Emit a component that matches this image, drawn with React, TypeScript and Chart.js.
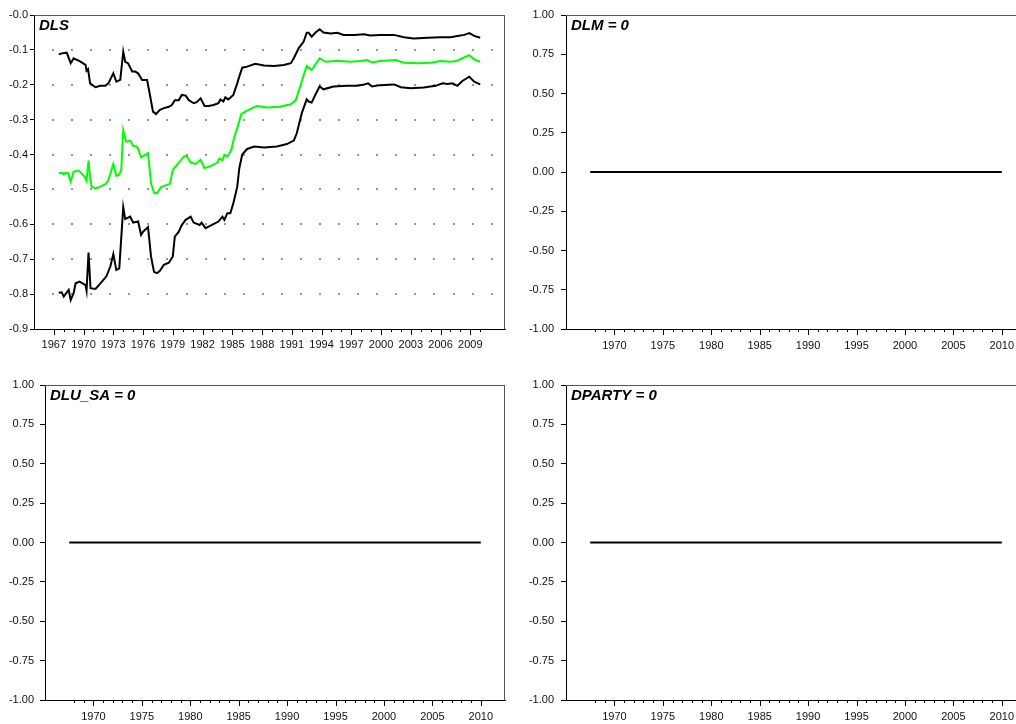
import React, { useEffect, useRef } from "react";
import Chart from "chart.js/auto";

const FONT = "'Liberation Sans', Arial, Helvetica, sans-serif";

// ---- DLS panel data (recursive estimate with bands) ----
const upperYears = [1967.5, 1967.8, 1968.3, 1968.7, 1969.0, 1969.6, 1970.2, 1970.3, 1970.45, 1970.66, 1971.2, 1971.7, 1972.2, 1972.5, 1973.0, 1973.3, 1973.7, 1974.0, 1974.2, 1974.5, 1974.9, 1975.2, 1975.5, 1975.9, 1976.4, 1976.6, 1977.0, 1977.3, 1977.7, 1978.1, 1978.6, 1978.9, 1979.2, 1979.6, 1979.9, 1980.3, 1980.6, 1981.1, 1981.4, 1981.8, 1982.2, 1982.6, 1983.1, 1983.6, 1983.8, 1984.1, 1984.3, 1984.6, 1985.1, 1985.5, 1985.65, 1986.0, 1986.5, 1987.3, 1988.2, 1989.2, 1990.2, 1990.9, 1991.2, 1991.7, 1992.2, 1992.5, 1992.7, 1993.0, 1993.4, 1993.8, 1994.2, 1994.9, 1995.6, 1996.2, 1997.3, 1998.3, 1998.9, 1999.9, 2001.3, 2002.3, 2003.3, 2004.7, 2006.0, 2007.0, 2007.7, 2008.4, 2008.9, 2009.4, 2010.0];
const upperValues = [-0.113, -0.110, -0.108, -0.138, -0.124, -0.132, -0.143, -0.160, -0.155, -0.196, -0.207, -0.203, -0.203, -0.196, -0.167, -0.191, -0.186, -0.105, -0.134, -0.139, -0.162, -0.162, -0.167, -0.186, -0.186, -0.215, -0.277, -0.284, -0.272, -0.267, -0.263, -0.258, -0.244, -0.244, -0.229, -0.231, -0.244, -0.253, -0.250, -0.239, -0.261, -0.261, -0.258, -0.253, -0.242, -0.248, -0.236, -0.242, -0.229, -0.196, -0.181, -0.151, -0.148, -0.140, -0.145, -0.146, -0.143, -0.138, -0.124, -0.095, -0.076, -0.051, -0.051, -0.062, -0.050, -0.041, -0.050, -0.053, -0.051, -0.057, -0.057, -0.055, -0.059, -0.057, -0.057, -0.064, -0.067, -0.065, -0.064, -0.064, -0.060, -0.057, -0.052, -0.060, -0.065];

const midYears = [1967.5, 1967.8, 1968.0, 1968.2, 1968.45, 1968.7, 1969.0, 1969.5, 1969.8, 1970.1, 1970.3, 1970.5, 1970.66, 1970.8, 1971.2, 1971.7, 1972.2, 1972.5, 1973.0, 1973.3, 1973.6, 1973.8, 1974.0, 1974.3, 1974.7, 1975.0, 1975.4, 1975.8, 1976.2, 1976.5, 1976.8, 1977.1, 1977.4, 1977.8, 1978.4, 1978.7, 1979.0, 1979.4, 1979.7, 1980.1, 1980.4, 1980.8, 1981.3, 1981.8, 1982.2, 1982.8, 1983.5, 1983.7, 1984.0, 1984.2, 1984.5, 1984.9, 1985.2, 1985.5, 1985.9, 1986.3, 1987.0, 1987.5, 1988.5, 1989.8, 1990.9, 1991.4, 1991.9, 1992.2, 1992.5, 1993.0, 1993.4, 1993.8, 1994.4, 1995.6, 1996.9, 1997.9, 1998.6, 1999.1, 1999.9, 2001.5, 2002.3, 2003.7, 2005.0, 2006.0, 2007.0, 2007.7, 2008.2, 2008.9, 2009.4, 2010.0];
const midValues = [-0.454, -0.452, -0.457, -0.452, -0.454, -0.478, -0.449, -0.446, -0.454, -0.463, -0.475, -0.417, -0.463, -0.492, -0.497, -0.492, -0.485, -0.473, -0.427, -0.461, -0.458, -0.444, -0.330, -0.363, -0.360, -0.375, -0.377, -0.408, -0.401, -0.396, -0.482, -0.509, -0.511, -0.494, -0.487, -0.484, -0.444, -0.430, -0.420, -0.406, -0.404, -0.423, -0.427, -0.415, -0.439, -0.433, -0.423, -0.411, -0.417, -0.401, -0.406, -0.387, -0.349, -0.325, -0.284, -0.277, -0.267, -0.261, -0.265, -0.263, -0.256, -0.244, -0.201, -0.172, -0.146, -0.158, -0.141, -0.124, -0.134, -0.131, -0.134, -0.132, -0.129, -0.136, -0.132, -0.129, -0.137, -0.138, -0.137, -0.132, -0.134, -0.131, -0.124, -0.115, -0.127, -0.134];

const lowerYears = [1967.5, 1967.8, 1968.0, 1968.25, 1968.5, 1968.7, 1969.0, 1969.2, 1969.6, 1970.2, 1970.3, 1970.5, 1970.7, 1971.2, 1971.7, 1972.0, 1972.3, 1972.7, 1973.0, 1973.3, 1973.6, 1974.0, 1974.2, 1974.7, 1975.0, 1975.5, 1975.8, 1976.0, 1976.5, 1976.8, 1977.1, 1977.4, 1977.7, 1978.1, 1978.6, 1979.0, 1979.2, 1979.6, 1979.9, 1980.3, 1980.8, 1981.1, 1981.7, 1981.9, 1982.3, 1982.9, 1983.6, 1984.0, 1984.2, 1984.5, 1984.8, 1985.1, 1985.5, 1985.7, 1986.0, 1986.5, 1987.2, 1988.2, 1989.5, 1990.5, 1991.2, 1991.5, 1992.0, 1992.5, 1992.7, 1993.0, 1993.4, 1993.8, 1994.2, 1995.2, 1996.6, 1997.6, 1998.3, 1998.7, 1999.1, 1999.9, 2001.3, 2002.0, 2003.0, 2004.3, 2005.5, 2006.2, 2006.7, 2007.2, 2007.7, 2008.2, 2008.9, 2009.4, 2010.0];
const lowerValues = [-0.796, -0.795, -0.807, -0.797, -0.788, -0.817, -0.797, -0.769, -0.764, -0.774, -0.790, -0.681, -0.783, -0.785, -0.769, -0.759, -0.749, -0.721, -0.685, -0.731, -0.726, -0.551, -0.585, -0.578, -0.595, -0.592, -0.630, -0.621, -0.608, -0.692, -0.736, -0.740, -0.733, -0.716, -0.710, -0.692, -0.635, -0.621, -0.602, -0.587, -0.578, -0.595, -0.602, -0.595, -0.611, -0.602, -0.592, -0.578, -0.587, -0.568, -0.568, -0.540, -0.492, -0.440, -0.400, -0.384, -0.377, -0.380, -0.377, -0.370, -0.360, -0.339, -0.282, -0.242, -0.248, -0.251, -0.227, -0.205, -0.213, -0.205, -0.203, -0.203, -0.199, -0.196, -0.205, -0.201, -0.199, -0.207, -0.210, -0.208, -0.203, -0.196, -0.198, -0.196, -0.203, -0.189, -0.177, -0.191, -0.199];

// ---- restricted panels (coefficient = 0) ----
const zeroYears = [1967.5, 2010.0];
const zeroValues = [0, 0];

// ---- tick labels ----
const dlsYTicks = [-0.9, -0.8, -0.7, -0.6, -0.5, -0.4, -0.3, -0.2, -0.1, 0];
const zeroYTicks = [-1, -0.75, -0.5, -0.25, 0, 0.25, 0.5, 0.75, 1];
const dlsXLabels = [1967, 1970, 1973, 1976, 1979, 1982, 1985, 1988, 1991, 1994, 1997, 2000, 2003, 2006, 2009];
const zeroXLabels = [1970, 1975, 1980, 1985, 1990, 1995, 2000, 2005, 2010];

const pts = (xs: number[], ys: number[]) => xs.map((x, i) => ({ x, y: ys[i] }));

type PanelDef = {
  title: string;
  left: number; top: number; width: number; height: number;
  yW: number; xH: number; padTop: number; padRight: number;
  yMin: number; yMax: number; yTicks: number[]; yFmt: (v: number) => string;
  yTickLen: number; yPad: number;
  xLabels: number[]; minorStart: number; minorEnd: number; xPad: number;
  dotted: boolean;
  datasets: any[];
};

const zeroDataset = () => ({
  data: pts(zeroYears, zeroValues),
  borderColor: "#000",
  borderWidth: 2,
  pointRadius: 0,
  fill: false,
});

const panels: PanelDef[] = [
  {
    title: "DLS", left: 0, top: 0, width: 520, height: 360,
    yW: 34, xH: 31, padTop: 15, padRight: 15,
    yMin: -0.9, yMax: 0, yTicks: dlsYTicks,
    yFmt: (v) => (Math.abs(v) < 1e-9 ? "-0.0" : v.toFixed(1)),
    yTickLen: 4, yPad: 2,
    xLabels: dlsXLabels, minorStart: 1967, minorEnd: 2010, xPad: 1,
    dotted: true,
    datasets: [
      { data: pts(upperYears, upperValues), borderColor: "#000", borderWidth: 2, pointRadius: 0, fill: false },
      { data: pts(midYears, midValues), borderColor: "#00ff00", borderWidth: 2, pointRadius: 0, fill: false },
      { data: pts(lowerYears, lowerValues), borderColor: "#000", borderWidth: 2, pointRadius: 0, fill: false },
    ],
  },
  {
    title: "DLM = 0", left: 520, top: 0, width: 540, height: 360,
    yW: 46, xH: 31, padTop: 15, padRight: 34,
    yMin: -1, yMax: 1, yTicks: zeroYTicks, yFmt: (v) => v.toFixed(2),
    yTickLen: 5, yPad: 7,
    xLabels: zeroXLabels, minorStart: 1968, minorEnd: 2010, xPad: 2,
    dotted: false,
    datasets: [zeroDataset()],
  },
  {
    title: "DLU_SA = 0", left: 0, top: 360, width: 520, height: 364,
    yW: 45, xH: 24, padTop: 25, padRight: 15,
    yMin: -1, yMax: 1, yTicks: zeroYTicks, yFmt: (v) => v.toFixed(2),
    yTickLen: 5, yPad: 6,
    xLabels: zeroXLabels, minorStart: 1968, minorEnd: 2010, xPad: 2,
    dotted: false,
    datasets: [zeroDataset()],
  },
  {
    title: "DPARTY = 0", left: 520, top: 360, width: 540, height: 364,
    yW: 46, xH: 24, padTop: 25, padRight: 34,
    yMin: -1, yMax: 1, yTicks: zeroYTicks, yFmt: (v) => v.toFixed(2),
    yTickLen: 5, yPad: 7,
    xLabels: zeroXLabels, minorStart: 1968, minorEnd: 2010, xPad: 2,
    dotted: false,
    datasets: [zeroDataset()],
  },
];

function PanelChart({ p }: { p: PanelDef }) {
  const ref = useRef<HTMLCanvasElement | null>(null);
  useEffect(() => {
    if (!ref.current) return;
    const decor = {
      id: "decor" + p.title,
      beforeDatasetsDraw(chart: any) {
        if (!p.dotted) return;
        const { ctx, chartArea: a, scales } = chart;
        const ys = scales.y;
        ctx.save();
        ctx.fillStyle = "#444";
        const step = (a.right - a.left) / 24.7;
        p.yTicks.forEach((v) => {
          if (v <= p.yMin + 1e-9 || v >= p.yMax - 1e-9) return;
          const py = Math.round(ys.getPixelForValue(v));
          for (let k = 1; a.left + k * step < a.right - 4; k++) {
            const px = Math.round(a.left + k * step);
            ctx.fillRect(px - 0.75, py - 0.75, 1.5, 1.5);
          }
        });
        ctx.restore();
      },
      afterDraw(chart: any) {
        const { ctx, chartArea: a, scales } = chart;
        const xs = scales.x;
        ctx.save();
        // frame: top and right
        ctx.strokeStyle = "#555";
        ctx.lineWidth = 1;
        ctx.beginPath();
        ctx.moveTo(a.left, Math.round(a.top) + 0.5);
        ctx.lineTo(a.right, Math.round(a.top) + 0.5);
        ctx.moveTo(Math.round(a.right) - 0.5, a.top);
        ctx.lineTo(Math.round(a.right) - 0.5, a.bottom);
        ctx.stroke();
        // x tick marks (yearly minor, labelled years major)
        ctx.strokeStyle = "#000";
        ctx.beginPath();
        for (let yr = p.minorStart; yr <= p.minorEnd; yr++) {
          const px = Math.round(xs.getPixelForValue(yr)) + 0.5;
          const len = p.xLabels.includes(yr) ? 6 : 3;
          ctx.moveTo(px, a.bottom);
          ctx.lineTo(px, a.bottom + len);
        }
        ctx.stroke();
        // title
        ctx.fillStyle = "#000";
        ctx.font = `italic bold 15px ${FONT}`;
        ctx.textAlign = "left";
        ctx.textBaseline = "alphabetic";
        ctx.fillText(p.title, a.left + 5, a.top + 15);
        ctx.restore();
      },
    };
    const chart = new Chart(ref.current, {
      type: "line",
      data: { datasets: p.datasets },
      options: {
        animation: false,
        responsive: false,
        maintainAspectRatio: false,
        layout: { padding: { top: p.padTop, right: p.padRight, left: 0, bottom: 0 } },
        plugins: { legend: { display: false }, tooltip: { enabled: false } },
        elements: { line: { tension: 0 } },
        scales: {
          x: {
            type: "linear",
            min: 1965,
            max: 2012.5,
            afterBuildTicks: (s: any) => {
              s.ticks = p.xLabels.map((v) => ({ value: v }));
            },
            afterFit: (s: any) => {
              s.height = p.xH;
            },
            ticks: {
              autoSkip: false,
              maxRotation: 0,
              padding: p.xPad,
              color: "#111",
              font: { family: FONT, size: 11 },
              callback: (v: any) => String(v),
            },
            grid: { display: false },
            border: { display: true, color: "#000", width: 1 },
          },
          y: {
            type: "linear",
            min: p.yMin,
            max: p.yMax,
            afterBuildTicks: (s: any) => {
              s.ticks = p.yTicks.map((v) => ({ value: v }));
            },
            afterFit: (s: any) => {
              s.width = p.yW;
            },
            ticks: {
              padding: p.yPad,
              color: "#111",
              font: { family: FONT, size: 11 },
              callback: (v: any) => p.yFmt(Number(v)),
            },
            grid: { display: true, drawOnChartArea: false, drawTicks: true, tickLength: p.yTickLen, color: "#000", lineWidth: 1 },
            border: { display: true, color: "#000", width: 1 },
          },
        },
      },
      plugins: [decor],
    } as any);
    return () => chart.destroy();
  }, [p]);
  return (
    <canvas
      ref={ref}
      width={p.width}
      height={p.height}
      style={{ position: "absolute", left: p.left, top: p.top, width: p.width, height: p.height }}
    />
  );
}

export default function App() {
  return (
    <div style={{ position: "fixed", left: 0, top: 0, width: 1016, height: 724, overflow: "hidden", background: "#fff" }}>
      {panels.map((p) => (
        <PanelChart key={p.title} p={p} />
      ))}
    </div>
  );
}
